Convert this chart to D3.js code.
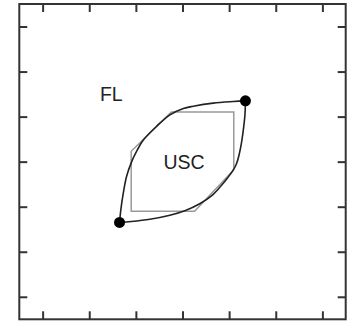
<!DOCTYPE html>
<html>
<head>
<meta charset="utf-8">
<script src="https://cdn.jsdelivr.net/npm/d3@7"></script>
<style>
  html, body { margin: 0; padding: 0; background: #fff; }
  svg { display: block; }
</style>
</head>
<body>
<div id="chart"></div>
<script>
// Axis tick positions (unlabelled)
const tickValues = [-3, -2, -1, 0, 1, 2, 3];

// Upper branch of the loop, from lower-left to upper-right point
const upperX = [-1.35, -1.32, -1.27, -1.20, -1.09, -0.98, -0.84, -0.55, -0.27, 0.02, 0.23, 0.66, 1.09, 1.35];
const upperY = [-1.35, -1.05, -0.70, -0.33, 0.00, 0.24, 0.48, 0.79, 1.04, 1.18, 1.23, 1.30, 1.335, 1.35];

// Lower branch of the loop, from lower-left to upper-right point
const lowerX = [-1.35, -1.10, -0.70, -0.27, 0.05, 0.38, 0.62, 0.80, 0.96, 1.08, 1.16, 1.22, 1.27, 1.31, 1.34, 1.35];
const lowerY = [-1.35, -1.33, -1.28, -1.19, -1.09, -0.93, -0.76, -0.57, -0.37, -0.20, -0.04, 0.18, 0.45, 0.75, 1.05, 1.35];

// Chamfered square (USC region)
const hexX = [-1.1, 0.26, 1.1, 1.1, -0.24, -1.1];
const hexY = [-1.1, -1.1, -0.18, 1.1, 1.1, 0.23];

// End points of the loop
const dotX = [-1.35, 1.35];
const dotY = [-1.35, 1.35];

// Region labels
const labels = [
  { text: "FL",  x: -1.77, y: 1.35 },
  { text: "USC", x: -0.41, y: -0.16 }
];

const W = 349, H = 321;
const margin = { left: 19.3, top: 4, right: 3.3, bottom: 1.7 };
const iw = W - margin.left - margin.right;
const ih = H - margin.top - margin.bottom;

const x = d3.scaleLinear().domain([-3.5, 3.5]).range([0, iw]);
const y = d3.scaleLinear().domain([-3.5, 3.5]).range([ih, 0]);

const svg = d3.select("#chart").append("svg")
  .attr("width", W).attr("height", H);
const g = svg.append("g")
  .attr("transform", `translate(${margin.left},${margin.top})`);

// Inward-pointing ticks on all four sides
const tickLen = 8;
const axes = [
  { ax: d3.axisBottom(x), t: `translate(0,${ih})` },
  { ax: d3.axisTop(x),    t: `translate(0,0)` },
  { ax: d3.axisLeft(y),   t: `translate(0,0)` },
  { ax: d3.axisRight(y),  t: `translate(${iw},0)` }
];
axes.forEach(a => {
  const sel = g.append("g").attr("transform", a.t)
    .call(a.ax.tickValues(tickValues).tickSize(-tickLen).tickFormat(""));
  sel.select(".domain").remove();
  sel.selectAll(".tick line").attr("stroke", "#333").attr("stroke-width", 2);
});

// Plot frame
g.append("rect")
  .attr("x", 0).attr("y", 0).attr("width", iw).attr("height", ih)
  .attr("fill", "none").attr("stroke", "#333").attr("stroke-width", 2);

// Chamfered square
const hexPts = hexX.map((v, i) => [x(v), y(hexY[i])]);
g.append("path")
  .attr("d", "M" + hexPts.join("L") + "Z")
  .attr("fill", "none").attr("stroke", "#999").attr("stroke-width", 1.5);

// Loop branches
const line = d3.line().x(d => x(d[0])).y(d => y(d[1])).curve(d3.curveCatmullRom.alpha(0.5));
[[upperX, upperY], [lowerX, lowerY]].forEach(([xs, ys]) => {
  g.append("path")
    .attr("d", line(xs.map((v, i) => [v, ys[i]])))
    .attr("fill", "none").attr("stroke", "#222").attr("stroke-width", 1.6);
});

// End-point markers
g.selectAll("circle.end").data(dotX).enter().append("circle")
  .attr("class", "end")
  .attr("cx", d => x(d)).attr("cy", (d, i) => y(dotY[i]))
  .attr("r", 5.5).attr("fill", "#000");

// Labels
g.selectAll("text.lbl").data(labels).enter().append("text")
  .attr("class", "lbl")
  .attr("x", d => x(d.x)).attr("y", d => y(d.y))
  .attr("font-family", "Liberation Sans, Arial, sans-serif")
  .attr("font-size", 19.5)
  .attr("fill", "#222")
  .text(d => d.text);
</script>
</body>
</html>
